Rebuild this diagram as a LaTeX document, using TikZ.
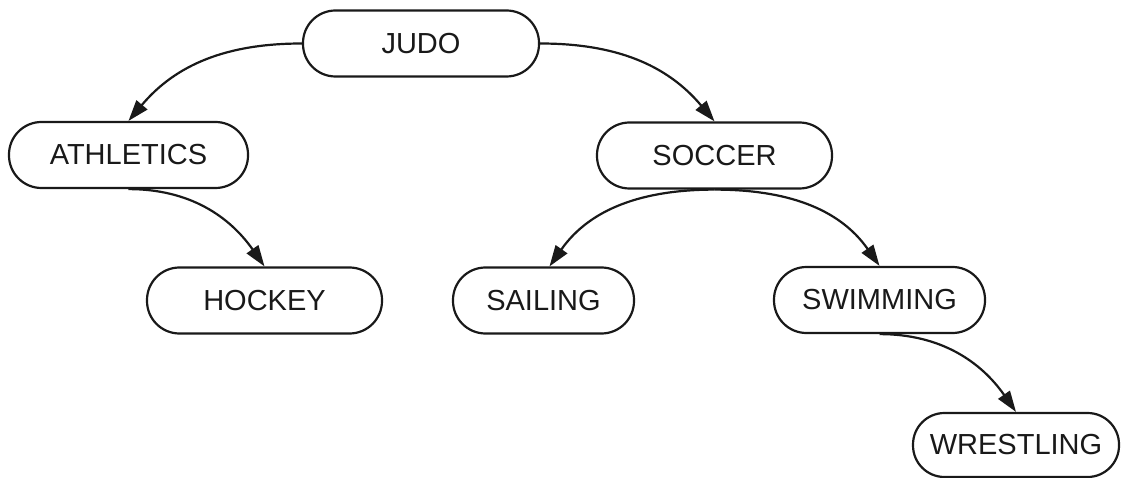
\documentclass[tikz,border=0pt]{standalone}
\usepackage{fontspec}
\setmainfont{Liberation Sans}
\usetikzlibrary{arrows.meta}
\begin{document}
\begin{tikzpicture}[x=1pt,y=-1pt,
  sport/.style={draw=black!90, line width=2.2pt, rounded corners=32.5pt, minimum height=66pt,
    inner sep=0pt, font=\fontsize{29}{33}\selectfont, text=black!90},
  link/.style={draw=black!90, line width=2.2pt, -{Triangle[length=21pt,width=14pt]}}]
\useasboundingbox (0,0) rectangle (1121,478);
\node[sport, minimum width=236pt] (judo) at (421,43.5) {JUDO};
\node[sport, minimum width=239pt] (athletics) at (128.5,155) {ATHLETICS};
\node[sport, minimum width=235pt] (soccer) at (714.5,155.5) {SOCCER};
\node[sport, minimum width=235pt] (hockey) at (264.5,300.5) {HOCKEY};
\node[sport, minimum width=181pt] (sailing) at (543.5,300.5) {SAILING};
\node[sport, minimum width=211pt] (swimming) at (879.5,300) {SWIMMING};
\node[sport, minimum width=206pt, minimum height=64pt, rounded corners=31.5pt] (wrestling) at (1016,445) {WRESTLING};
\draw[link] (judo.west) to[out=180,in=50] (athletics.north);
\draw[link] (judo.east) to[out=0,in=130] (soccer.north);
\draw[link] (athletics.south) to[out=0,in=125] (hockey.north);
\draw[link] (soccer.south) to[out=180,in=55] ([xshift=6pt]sailing.north);
\draw[link] (soccer.south) to[out=0,in=125] (swimming.north);
\draw[link] (swimming.south) to[out=0,in=125] (wrestling.north);
\end{tikzpicture}
\end{document}
